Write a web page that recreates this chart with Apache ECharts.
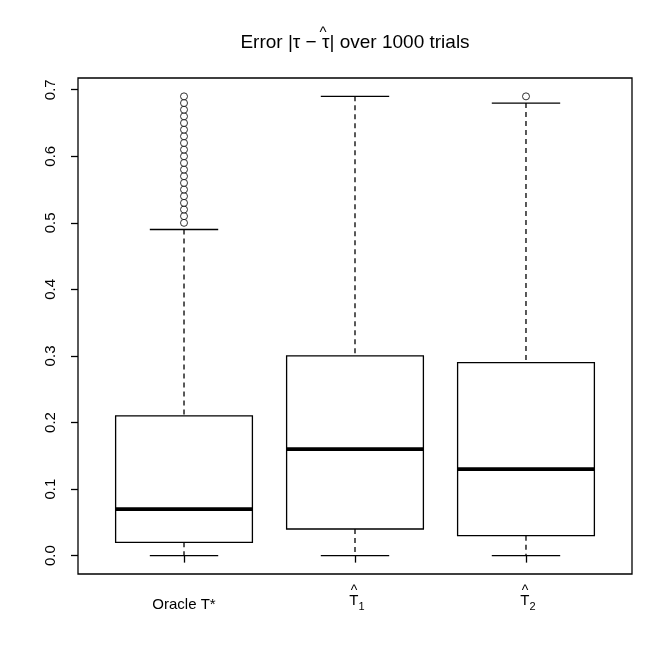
<!DOCTYPE html>
<html>
<head>
<meta charset="utf-8">
<script src="https://cdn.jsdelivr.net/npm/echarts@6/dist/echarts.min.js"></script>
<style>
html,body{margin:0;padding:0;background:#fff;}
#chart{width:672px;height:672px;}
</style>
</head>
<body>
<div id="chart"></div>
<script>
// ---- data ----
const categories = ['Oracle T*', 'T1', 'T2'];
const whiskerLow = [0.00, 0.00, 0.00];
const q1 = [0.02, 0.04, 0.03];
const median = [0.07, 0.16, 0.13];
const q3 = [0.21, 0.30, 0.29];
const whiskerHigh = [0.49, 0.69, 0.68];
const outliersOracle = [0.50, 0.51, 0.52, 0.53, 0.54, 0.55, 0.56, 0.57, 0.58, 0.59,
                        0.60, 0.61, 0.62, 0.63, 0.64, 0.65, 0.66, 0.67, 0.68, 0.69];
const outliersT1 = [];
const outliersT2 = [0.69];
const yTicks = [0.0, 0.1, 0.2, 0.3, 0.4, 0.5, 0.6, 0.7];
const xTicks = [1, 2, 3];

const boxData = categories.map((c, i) => [i + 1, whiskerLow[i], q1[i], median[i], q3[i], whiskerHigh[i]]);
const outlierData = [];
[outliersOracle, outliersT1, outliersT2].forEach((arr, i) => arr.forEach(v => outlierData.push([i + 1, v])));

const FONT = '"Liberation Sans", Arial, sans-serif';
const chart = echarts.init(document.getElementById('chart'), null, {renderer: 'canvas'});

const option = {
  backgroundColor: '#ffffff',
  animation: false,
  title: {
    text: '{h|^}\n{n|Error |τ − τ| over 1000 trials}',
    left: 350,
    textAlign: 'center',
    top: 28,
    textStyle: {
      fontFamily: FONT, fontSize: 19, fontWeight: 'normal', color: '#000',
      rich: {
        h: {fontFamily: FONT, fontSize: 15, lineHeight: 2, color: '#000', padding: [0, 64, 2, 0]},
        n: {fontFamily: FONT, fontSize: 19, lineHeight: 16, color: '#000'}
      }
    }
  },
  grid: {
    left: 78, top: 78, width: 554, height: 496,
    show: true, borderColor: '#000', borderWidth: 1.3, backgroundColor: 'transparent'
  },
  xAxis: {
    type: 'value', min: 0.38, max: 3.62,
    axisLine: {show: false},
    splitLine: {show: false},
    axisTick: {show: true, length: 7, lineStyle: {color: '#000', width: 1.3}, customValues: xTicks},
    axisLabel: {
      show: true, customValues: xTicks, margin: 18,
      formatter: function (v) {
        const i = Math.round(v) - 1;
        if (i === 0) return '{h0| }\n{n0|' + categories[0] + '}';
        return '{h|^}\n{n|T}{s|' + categories[i].slice(1) + '}';
      },
      rich: {
        h0: {fontFamily: FONT, fontSize: 14, lineHeight: 7, color: '#000'},
        n0: {fontFamily: FONT, fontSize: 15, lineHeight: 12, color: '#000'},
        h: {fontFamily: FONT, fontSize: 14, lineHeight: 2, color: '#000', padding: [0, 2, 4, 0]},
        n: {fontFamily: FONT, fontSize: 15, lineHeight: 12, color: '#000', padding: [2, 0, 0, 4]},
        s: {fontFamily: FONT, fontSize: 11, lineHeight: 12, color: '#000', padding: [14, 0, 0, 0]}
      }
    }
  },
  yAxis: {
    type: 'value', min: -0.0276, max: 0.7176,
    axisLine: {show: false},
    splitLine: {show: false},
    axisTick: {show: true, length: 7, lineStyle: {color: '#000', width: 1.3}, customValues: yTicks},
    axisLabel: {
      show: true, customValues: yTicks, rotate: 90, margin: 20,
      fontFamily: FONT, fontSize: 15, color: '#000',
      formatter: v => v.toFixed(1)
    }
  },
  series: [
    {
      type: 'custom',
      clip: false,
      data: boxData,
      renderItem: function (params, api) {
        const x = api.value(0);
        const lo = api.value(1), a = api.value(2), m = api.value(3), b = api.value(4), hi = api.value(5);
        const tl = api.coord([x - 0.4, b]);
        const br = api.coord([x + 0.4, a]);
        const mL = api.coord([x - 0.4, m]);
        const mR = api.coord([x + 0.4, m]);
        const cTop = api.coord([x, hi]);
        const cQ3 = api.coord([x, b]);
        const cQ1 = api.coord([x, a]);
        const cLo = api.coord([x, lo]);
        const capL = api.coord([x - 0.2, hi])[0];
        const capR = api.coord([x + 0.2, hi])[0];
        const s = {stroke: '#000', lineWidth: 1.3, fill: null};
        const dash = {stroke: '#000', lineWidth: 1.3, lineDash: [5, 4]};
        return {
          type: 'group',
          children: [
            {type: 'line', shape: {x1: cTop[0], y1: cTop[1], x2: cQ3[0], y2: cQ3[1]}, style: dash},
            {type: 'line', shape: {x1: cQ1[0], y1: cQ1[1], x2: cLo[0], y2: cLo[1]}, style: dash},
            {type: 'line', shape: {x1: capL, y1: cTop[1], x2: capR, y2: cTop[1]}, style: s},
            {type: 'line', shape: {x1: capL, y1: cLo[1], x2: capR, y2: cLo[1]}, style: s},
            {type: 'rect', shape: {x: tl[0], y: tl[1], width: br[0] - tl[0], height: br[1] - tl[1]}, style: {stroke: '#000', lineWidth: 1.3, fill: '#fff'}},
            {type: 'line', shape: {x1: mL[0], y1: mL[1], x2: mR[0], y2: mR[1]}, style: {stroke: '#000', lineWidth: 3.8}}
          ]
        };
      }
    },
    {
      type: 'scatter',
      data: outlierData,
      symbol: 'circle',
      symbolSize: 7,
      itemStyle: {color: '#fff', borderColor: '#000', borderWidth: 1},
      clip: false
    }
  ]
};
chart.setOption(option);
</script>
</body>
</html>
